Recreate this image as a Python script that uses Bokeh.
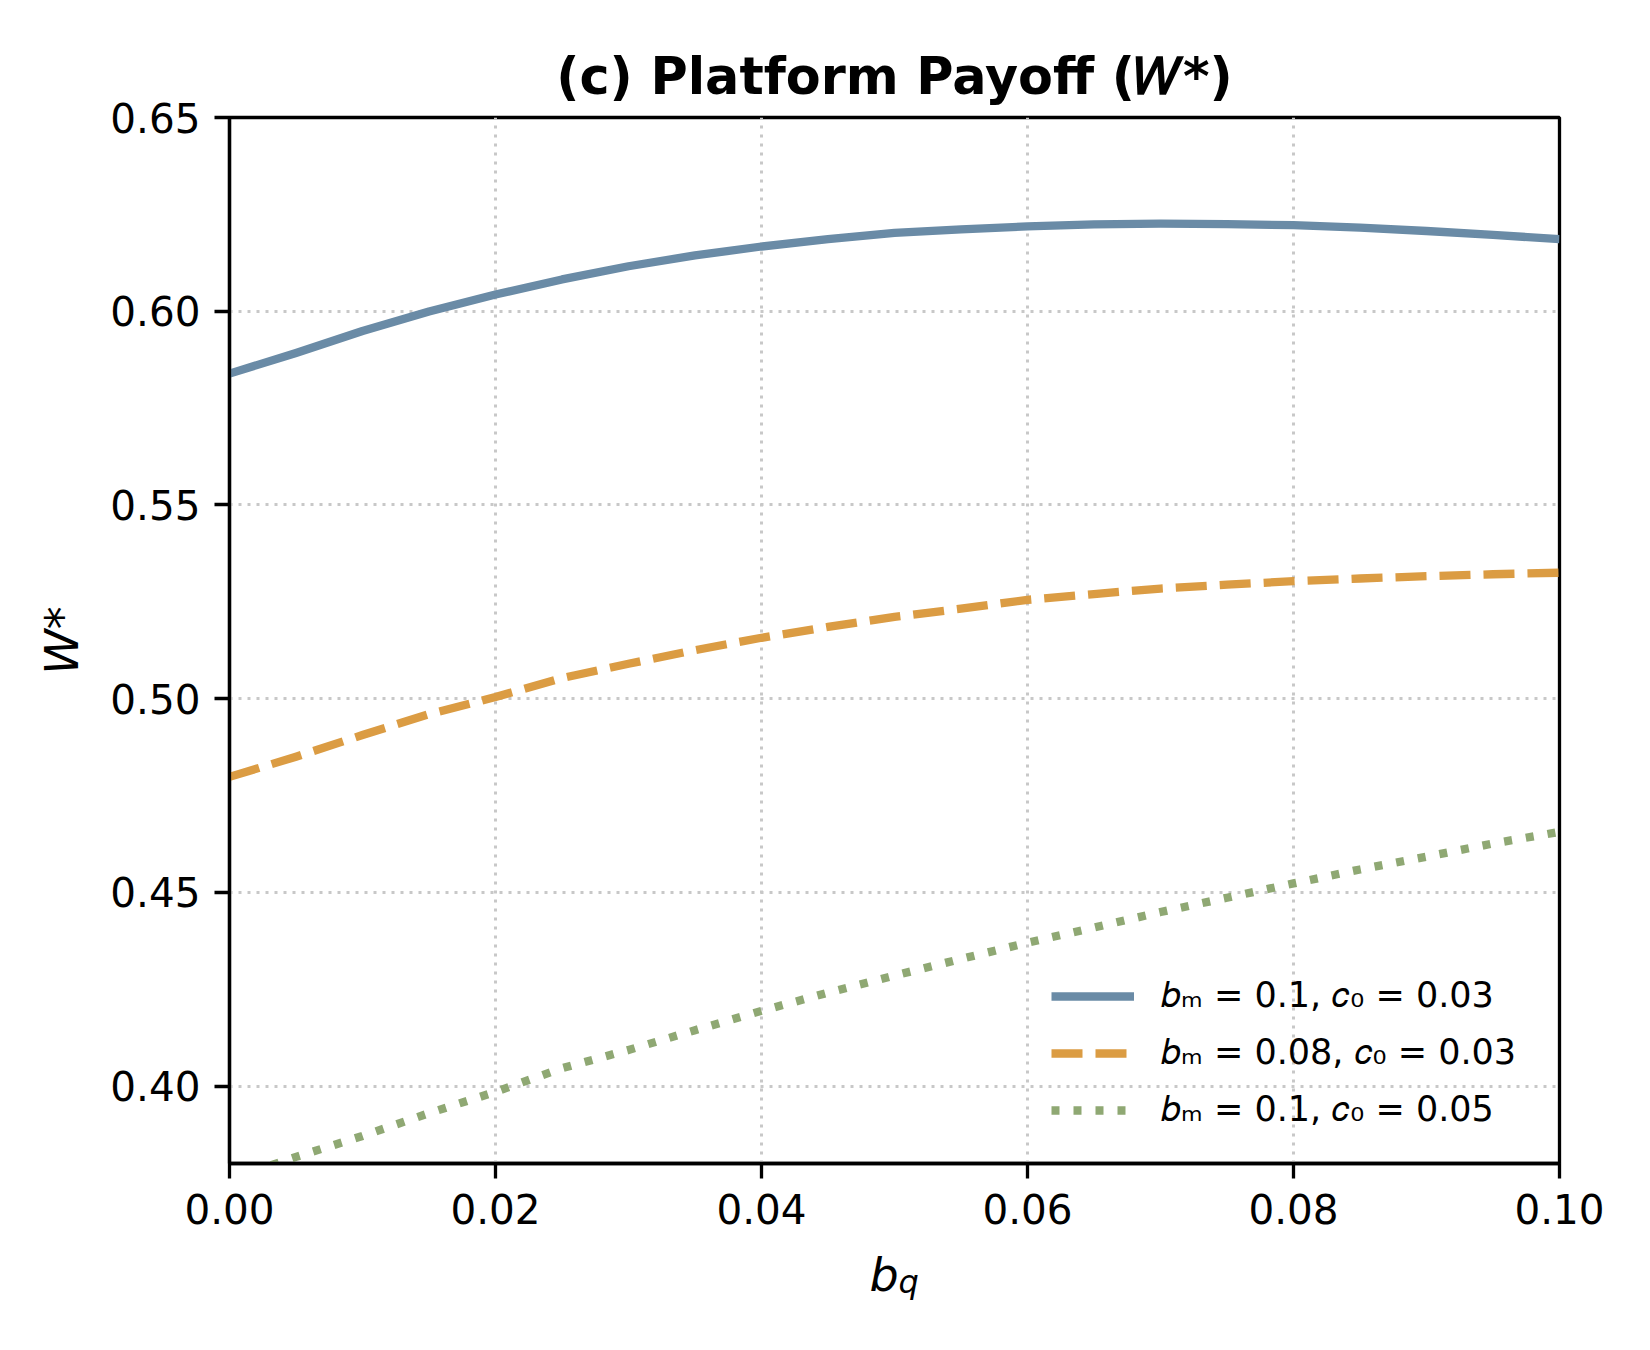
from bokeh.plotting import figure
from bokeh.models import Legend, LegendItem, Label, Range1d, FixedTicker, NumeralTickFormatter
from bokeh.embed import file_html
from bokeh.resources import INLINE

# ---- data ----
bq = [0.000, 0.005, 0.010, 0.015, 0.020, 0.025, 0.030, 0.035, 0.040, 0.045, 0.050,
      0.055, 0.060, 0.065, 0.070, 0.075, 0.080, 0.085, 0.090, 0.095, 0.100]
w_bm010_c003 = [0.5839, 0.5892, 0.5949, 0.5999, 0.6043, 0.6082, 0.6116, 0.6144, 0.6167, 0.6186, 0.6202,
                0.6211, 0.6219, 0.6224, 0.6226, 0.6225, 0.6222, 0.6216, 0.6207, 0.6197, 0.6186]
w_bm008_c003 = [0.4798, 0.4850, 0.4906, 0.4960, 0.5004, 0.5053, 0.5090, 0.5125, 0.5157, 0.5185, 0.5211,
                0.5232, 0.5255, 0.5270, 0.5284, 0.5294, 0.5303, 0.5310, 0.5316, 0.5321, 0.5325]
w_bm010_c005 = [0.3760, 0.3817, 0.3871, 0.3930, 0.3985, 0.4046, 0.4093, 0.4144, 0.4194, 0.4241, 0.4285,
                0.4328, 0.4370, 0.4409, 0.4449, 0.4486, 0.4523, 0.4559, 0.4592, 0.4626, 0.4656]
series_labels = ["𝑏ₘ = 0.1, 𝑐₀ = 0.03", "𝑏ₘ = 0.08, 𝑐₀ = 0.03", "𝑏ₘ = 0.1, 𝑐₀ = 0.05"]
x_ticks = [0.00, 0.02, 0.04, 0.06, 0.08, 0.10]
y_ticks = [0.40, 0.45, 0.50, 0.55, 0.60, 0.65]
x_min, x_max = 0.0, 0.10
y_min, y_max = 0.38, 0.65
title_text = "(c) Platform Payoff (𝑊*)"
x_label_main, x_label_sub = "b", "q"
y_label = "W*"

FONT = "DejaVu Sans"
colors = ["#6a8ba6", "#db9c43", "#8fa873"]

p = figure(width=1634, height=1334,
           x_range=Range1d(x_min, x_max), y_range=Range1d(y_min, y_max),
           output_backend="svg", toolbar_location=None,
           min_border_left=229, min_border_right=75,
           min_border_top=117, min_border_bottom=171,
           background_fill_color="white", border_fill_color="white")

# title
p.title.text = title_text
p.title.text_font = FONT
p.title.text_font_size = "50.8px"
p.title.text_font_style = "bold"
p.title.align = "center"
p.title.standoff = 24
p.title.text_color = "black"

# frame
p.outline_line_color = "black"
p.outline_line_width = 3.3
p.outline_line_alpha = 1.0

# grid
for g in (p.xgrid, p.ygrid):
    g.grid_line_color = "#c8c8c8"
    g.grid_line_width = 3
    g.grid_line_dash = "3 6"
p.xgrid.ticker = FixedTicker(ticks=x_ticks)
p.ygrid.ticker = FixedTicker(ticks=y_ticks)

# axes
for ax in (p.xaxis, p.yaxis):
    ax.axis_line_color = "black"
    ax.axis_line_width = 3.3
    ax.major_tick_line_color = "black"
    ax.major_tick_line_width = 3.3
    ax.major_tick_out = 15
    ax.major_tick_in = 0
    ax.minor_tick_line_color = None
    ax.major_label_text_font = FONT
    ax.major_label_text_font_size = "40.5px"
    ax.major_label_text_color = "black"
    ax.formatter = NumeralTickFormatter(format="0.00")

p.xaxis.ticker = FixedTicker(ticks=x_ticks)
p.yaxis.ticker = FixedTicker(ticks=y_ticks)
p.xaxis.major_label_standoff = 15
p.yaxis.major_label_standoff = 14

p.yaxis.axis_label = y_label
p.yaxis.axis_label_text_font = FONT
p.yaxis.axis_label_text_font_size = "46px"
p.yaxis.axis_label_text_font_style = "italic"
p.yaxis.axis_label_text_color = "black"
p.yaxis.axis_label_standoff = 18

# x axis label b_q: main letter plus a lowered smaller subscript, anchored below the frame
x_mid = (x_min + x_max) / 2
lab_b = Label(x=x_mid, y=y_min, x_offset=-25, y_offset=-111, text=x_label_main,
              text_font=FONT, text_font_size="46px", text_font_style="italic",
              text_align="left", text_baseline="alphabetic", text_color="black")
lab_q = Label(x=x_mid, y=y_min, x_offset=4, y_offset=-118, text=x_label_sub,
              text_font=FONT, text_font_size="32px", text_font_style="italic",
              text_align="left", text_baseline="alphabetic", text_color="black")
p.add_layout(lab_b, "right")
p.add_layout(lab_q, "left")

# lines
r1 = p.line(bq, w_bm010_c003, line_color=colors[0], line_width=8.3, line_join="round")
r2 = p.line(bq, w_bm008_c003, line_color=colors[1], line_width=8.3, line_dash="31 13", line_join="round")
r3 = p.line(bq, w_bm010_c005, line_color=colors[2], line_width=8.3, line_dash="8 14", line_join="round")

legend = Legend(items=[LegendItem(label=series_labels[0], renderers=[r1]),
                       LegendItem(label=series_labels[1], renderers=[r2]),
                       LegendItem(label=series_labels[2], renderers=[r3])],
                location=(822, 33))
legend.label_text_font = FONT
legend.label_text_font_size = "35px"
legend.label_text_color = "black"
legend.label_height = 40
legend.glyph_height = 40
legend.glyph_width = 83
legend.label_standoff = 27
legend.spacing = 16
legend.padding = 0
legend.margin = 0
legend.border_line_color = None
legend.background_fill_alpha = 0
p.add_layout(legend)

with open("out.html", "w", encoding="utf-8") as f:
    f.write(file_html(p, INLINE))
